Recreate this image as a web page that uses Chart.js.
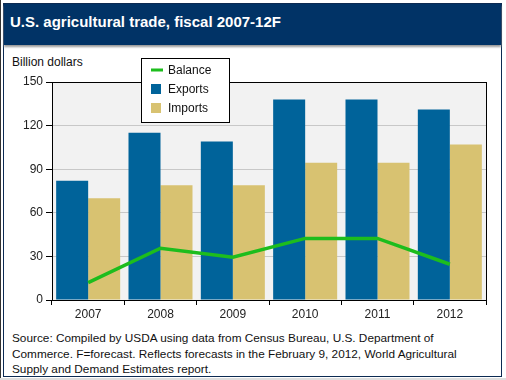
<!DOCTYPE html>
<html>
<head>
<meta charset="utf-8">
<script src="https://cdn.jsdelivr.net/npm/chart.js@4"></script>
<style>
  html, body { margin: 0; padding: 0; background: #fff; }
  body { width: 506px; height: 380px; position: relative; overflow: hidden; font-family: "Liberation Sans", Arial, sans-serif; }
  .edge { position: absolute; left: 0; top: 0; width: 1px; height: 378px; background: #333; }
  .bottomstrip { position: absolute; left: 0; top: 378px; width: 506px; height: 2px; background: #ddd; }
  .frame { position: absolute; left: 3px; top: 3px; width: 497px; height: 372px; border: 1px solid #0c2a52; }
  .titlebar { position: absolute; left: 4px; top: 4px; width: 497px; height: 41px; background: #013366; box-shadow: 0 2px 2px #999; }
  .title { position: absolute; left: 10px; top: 13px; color: #fff; font-weight: bold; font-size: 15px; white-space: nowrap; }
  .ylabel { position: absolute; left: 12px; top: 55px; font-size: 12px; color: #111; }
  .source { position: absolute; left: 12px; top: 331px; font-size: 11.8px; line-height: 15.5px; color: #111; white-space: nowrap; }
  canvas { position: absolute; left: 0; top: 0; }
</style>
</head>
<body>
<div class="edge"></div>
<div class="bottomstrip"></div>
<div class="frame"></div>
<div class="titlebar"></div>
<div class="title">U.S. agricultural trade, fiscal 2007-12F</div>
<div class="ylabel">Billion dollars</div>
<canvas id="c" width="506" height="330"></canvas>
<div class="source">Source: Compiled by USDA using data from Census Bureau, U.S. Department of<br>Commerce. F=forecast. Reflects forecasts in the February 9, 2012, World Agricultural<br>Supply and Demand Estimates report.</div>
<script>
const categories = ["2007", "2008", "2009", "2010", "2011", "2012"];
const exportsValues = [82, 115, 109, 138, 138, 131];
const importsValues = [70, 79, 79, 94.5, 94.5, 107];
const balanceValues = [12, 35.6, 29.4, 42.4, 42.4, 24.6];
const yTicks = [0, 30, 60, 90, 120, 150];

const FONT = "'Liberation Sans', Arial, sans-serif";

const plotFrame = {
  id: 'plotFrame',
  beforeDraw(chart) {
    const a = chart.chartArea, ctx = chart.ctx;
    ctx.save();
    ctx.fillStyle = '#f2f2f2';
    ctx.fillRect(a.left, a.top, a.right - a.left, a.bottom - a.top);
    ctx.restore();
  },
  afterDraw(chart) {
    const a = chart.chartArea, ctx = chart.ctx;
    ctx.save();
    ctx.strokeStyle = '#000';
    ctx.lineWidth = 1;
    ctx.strokeRect(Math.round(a.left) + 0.5, Math.round(a.top) + 0.5, Math.round(a.right - a.left), Math.round(a.bottom - a.top));
    // legend
    const bx = 141, by = 58, bw = 88, bh = 64;
    ctx.fillStyle = '#fff';
    ctx.fillRect(bx, by, bw, bh);
    ctx.strokeStyle = '#000';
    ctx.strokeRect(bx + 0.5, by + 0.5, bw, bh);
    ctx.font = '12px ' + FONT;
    ctx.textBaseline = 'middle';
    ctx.textAlign = 'left';
    const order = [2, 0, 1];
    order.forEach((di, i) => {
      const ds = chart.data.datasets[di];
      const cy = by + 12 + i * 19;
      if (ds.type === 'line') {
        ctx.fillStyle = ds.borderColor;
        ctx.fillRect(151, cy - 1.5, 12, 3);
      } else {
        ctx.fillStyle = ds.backgroundColor;
        ctx.fillRect(151, cy - 5, 10, 10);
      }
      ctx.fillStyle = '#111';
      ctx.fillText(ds.label, 168, cy + 0.5);
    });
    ctx.restore();
  }
};

new Chart(document.getElementById('c'), {
  type: 'bar',
  data: {
    labels: categories,
    datasets: [
      { label: 'Exports', data: exportsValues, backgroundColor: '#00639a', order: 2, categoryPercentage: 0.885, barPercentage: 1.0 },
      { label: 'Imports', data: importsValues, backgroundColor: '#d8c271', order: 2, categoryPercentage: 0.885, barPercentage: 1.0 },
      { label: 'Balance', type: 'line', data: balanceValues, borderColor: '#1dbd1d', backgroundColor: '#1dbd1d', borderWidth: 3.5, pointRadius: 0, tension: 0, order: 0 }
    ]
  },
  options: {
    responsive: false,
    animation: false,
    layout: { padding: { left: 0, top: 82, right: 20, bottom: 0 } },
    plugins: { legend: { display: false }, title: { display: false }, tooltip: { enabled: false } },
    scales: {
      x: {
        offset: true,
        grid: { display: true, drawOnChartArea: false, drawTicks: true, tickLength: 5, tickColor: '#000', offset: true, lineWidth: 1 },
        border: { display: true, color: '#000' },
        ticks: { color: '#222', font: { family: FONT, size: 12 }, padding: 2, maxRotation: 0 },
        afterFit(s) { s.height = 30; }
      },
      y: {
        min: 0, max: 150,
        afterBuildTicks(s) { s.ticks = yTicks.map(v => ({ value: v })); },
        grid: { color: '#c8c8c8', lineWidth: 1, tickColor: '#000', tickLength: 6, drawTicks: true },
        border: { display: true, color: '#000' },
        ticks: { color: '#222', font: { family: FONT, size: 12 }, padding: 3 },
        afterFit(s) { s.width = 52; }
      }
    }
  },
  plugins: [plotFrame]
});
</script>
</body>
</html>
